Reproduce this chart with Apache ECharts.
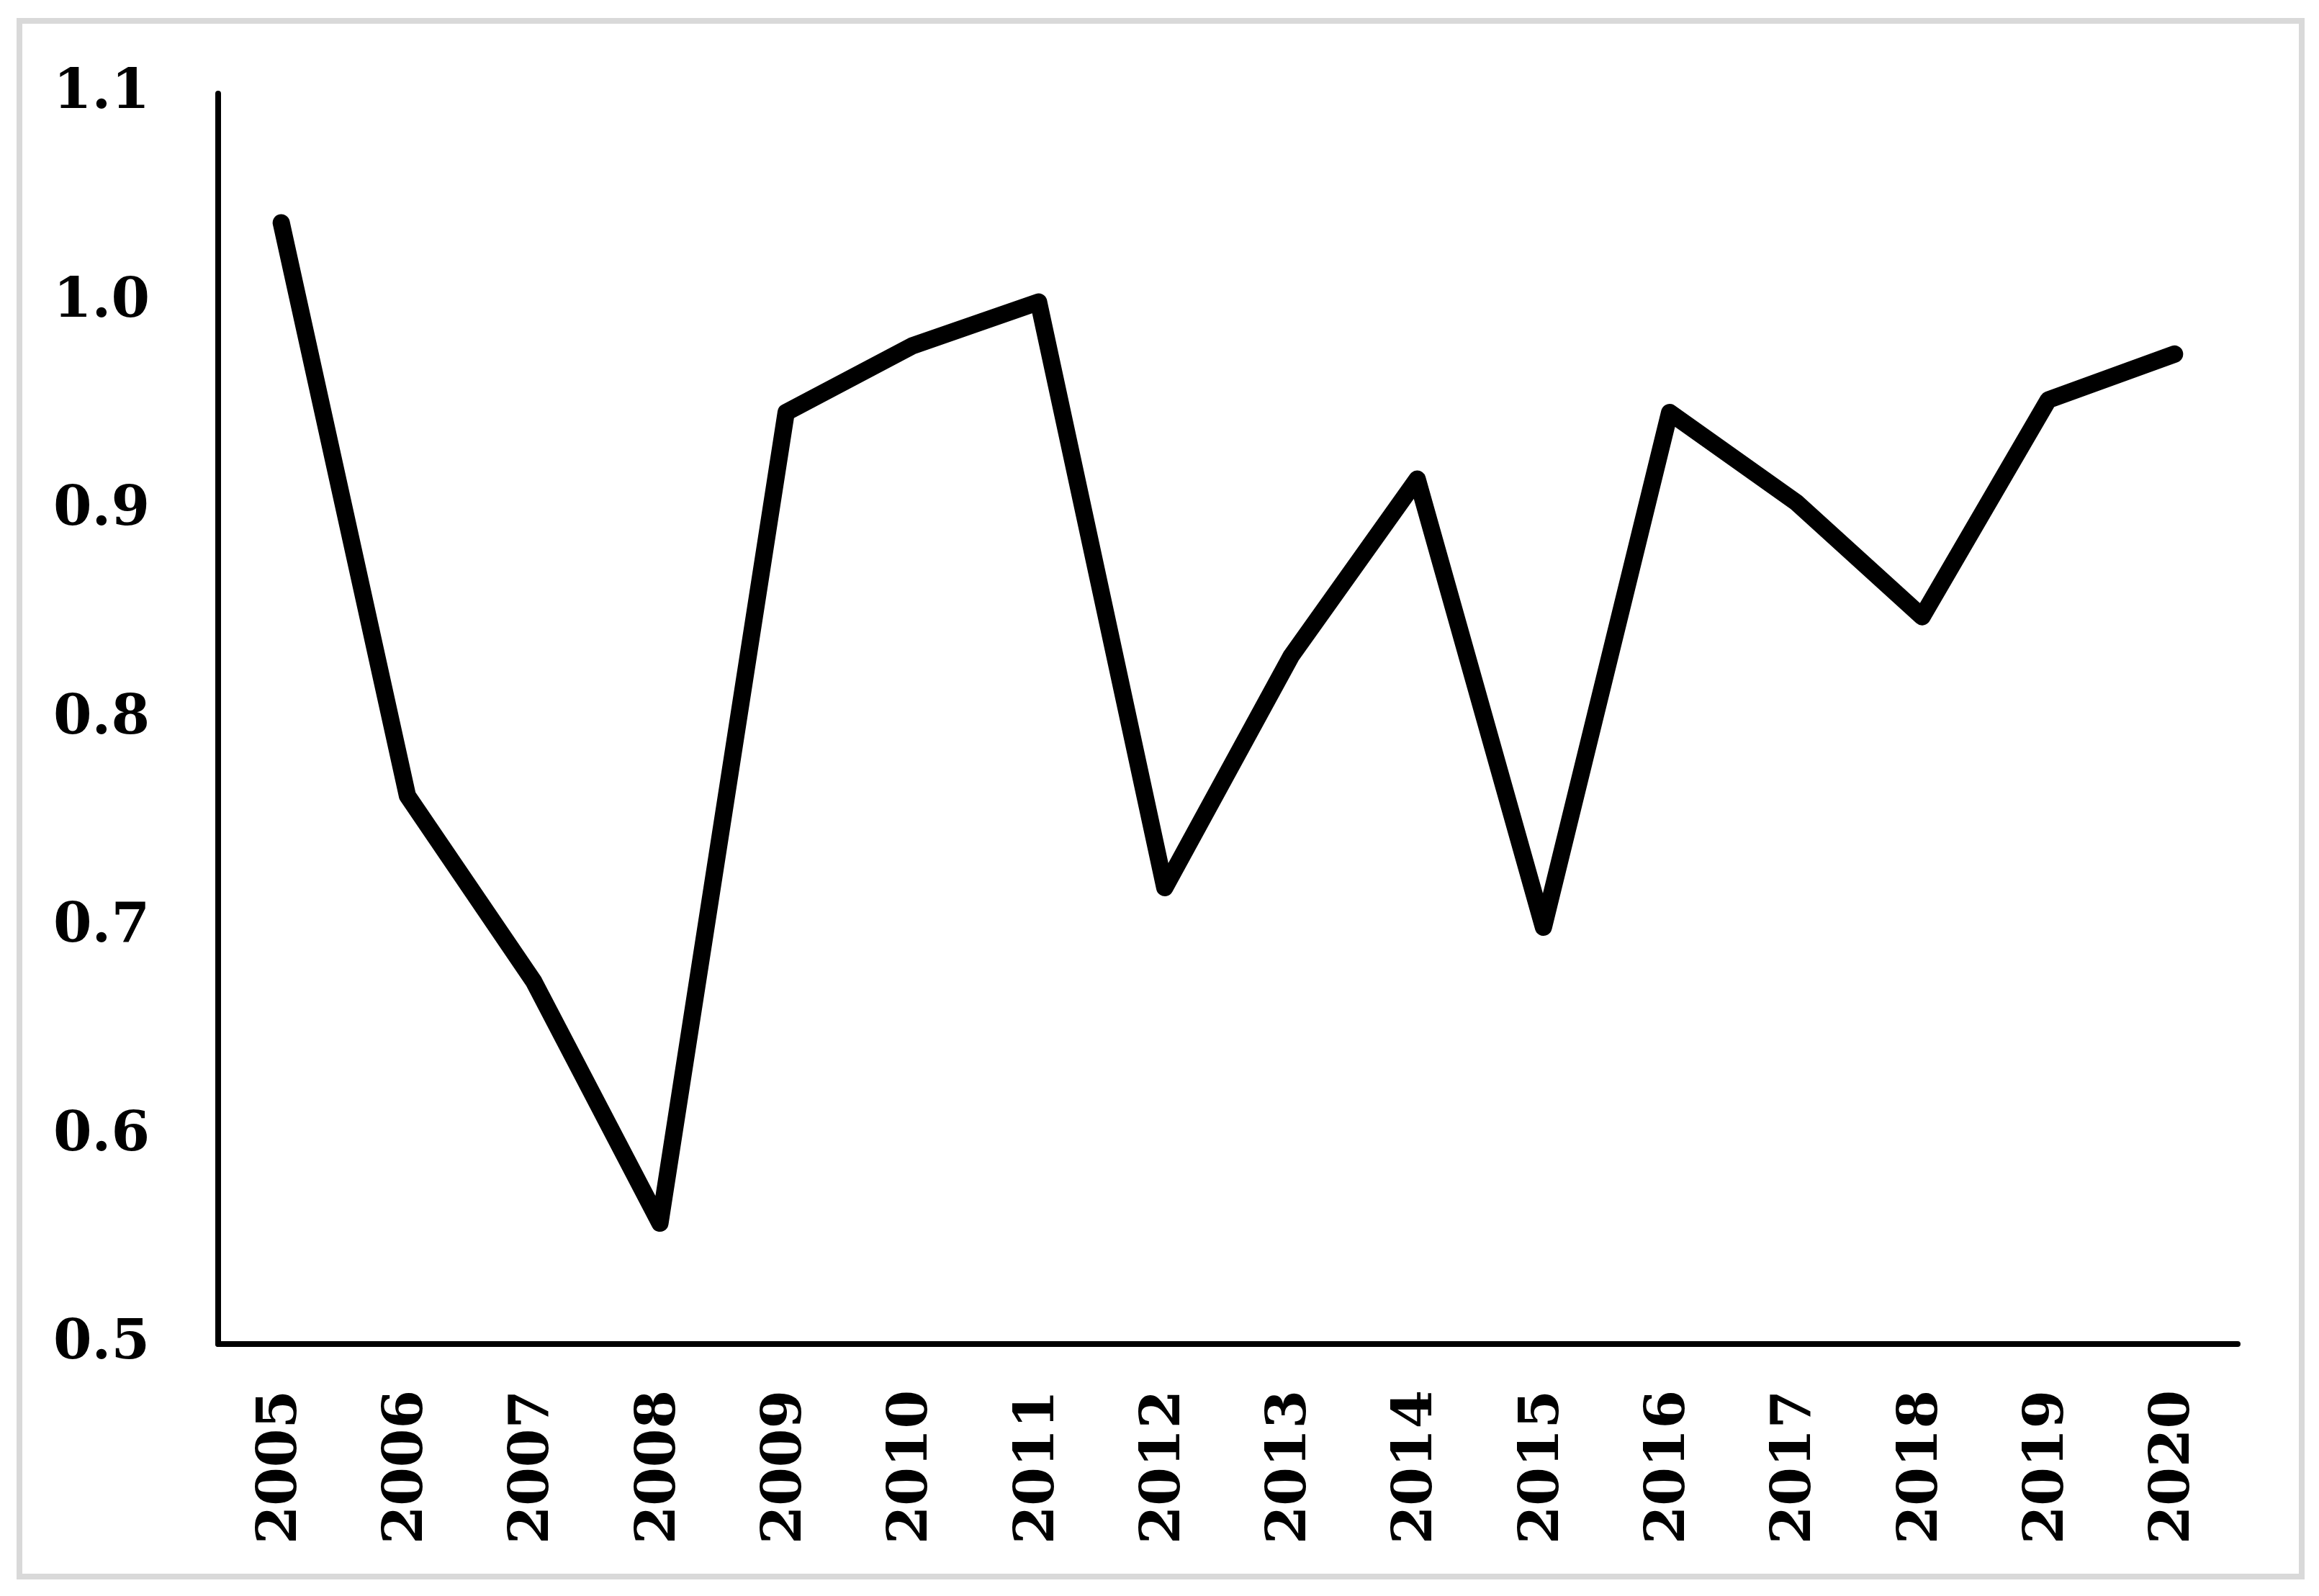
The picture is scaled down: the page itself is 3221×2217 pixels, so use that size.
<!DOCTYPE html>
<html>
<head>
<meta charset="utf-8">
<script src="https://cdn.jsdelivr.net/npm/echarts@6/dist/echarts.min.js"></script>
<style>
  html, body { margin: 0; padding: 0; background: #fff; }
  #main { width: 3221px; height: 2217px; }
</style>
</head>
<body>
<div id="main"></div>
<script>
// years on the x axis
var years = ['2005', '2006', '2007', '2008', '2009', '2010', '2011', '2012',
             '2013', '2014', '2015', '2016', '2017', '2018', '2019', '2020'];
// series values
var values = [1.038, 0.763, 0.674, 0.558, 0.947, 0.979, 1.000, 0.719,
              0.830, 0.915, 0.700, 0.947, 0.904, 0.849, 0.953, 0.975];
// y axis range
var yMin = 0.5, yMax = 1.1, yStep = 0.1;

var labelFont = {
  color: '#000',
  fontFamily: 'DejaVu Serif',
  fontWeight: 'bold',
  fontSize: 77
};

var myChart = echarts.init(document.getElementById('main'), null, { renderer: 'canvas' });
myChart.setOption({
  animation: false,
  backgroundColor: '#fff',
  graphic: [{
    type: 'rect',
    shape: { x: 27, y: 29, width: 3170, height: 2161 },
    style: { fill: 'none', stroke: '#d9d9d9', lineWidth: 8 },
    z: 0
  }],
  grid: { left: 303, right: 113, top: 130, bottom: 350, containLabel: false },
  xAxis: {
    type: 'category',
    data: years,
    boundaryGap: true,
    axisLine: { show: true, lineStyle: { color: '#000', width: 8 } },
    axisTick: { show: false },
    splitLine: { show: false },
    axisLabel: Object.assign({ rotate: 90, margin: 64, interval: 0 }, labelFont)
  },
  yAxis: {
    type: 'value',
    min: yMin,
    max: yMax,
    interval: yStep,
    axisLine: { show: true, lineStyle: { color: '#000', width: 8 } },
    axisTick: { show: false },
    splitLine: { show: false },
    axisLabel: Object.assign({
      margin: 95,
      formatter: function (v) { return v.toFixed(1); }
    }, labelFont)
  },
  series: [{
    type: 'line',
    data: values,
    symbol: 'none',
    lineStyle: { color: '#000', width: 24, cap: 'round', join: 'round' }
  }]
});
</script>
</body>
</html>
